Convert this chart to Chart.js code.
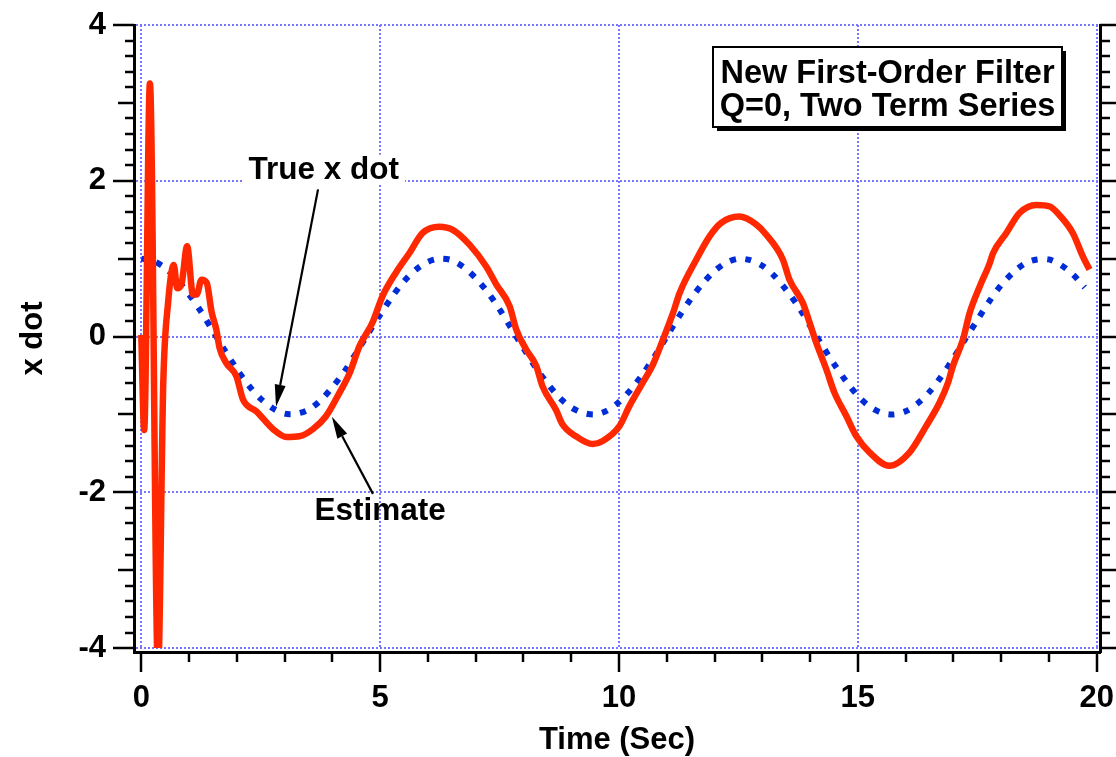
<!DOCTYPE html>
<html>
<head>
<meta charset="utf-8">
<script src="https://cdn.jsdelivr.net/npm/chart.js@4/dist/chart.umd.min.js"></script>
<style>html,body{margin:0;padding:0;background:#fff;}canvas{display:block;}</style>
</head>
<body>
<canvas id="c" width="1116" height="757"></canvas>
<script>
// ---- data ----
const trueTime = [0,0.25,0.5,0.75,1,1.25,1.5,1.75,2,2.25,2.5,2.75,3,3.25,3.5,3.75,4,4.25,4.5,4.75,
  5,5.25,5.5,5.75,6,6.25,6.5,6.75,7,7.25,7.5,7.75,8,8.25,8.5,8.75,9,9.25,9.5,9.75,
  10,10.25,10.5,10.75,11,11.25,11.5,11.75,12,12.25,12.5,12.75,13,13.25,13.5,13.75,14,14.25,14.5,14.75,
  15,15.25,15.5,15.75,16,16.25,16.5,16.75,17,17.25,17.5,17.75,18,18.25,18.5,18.75,19,19.25,19.5,19.75];
const trueXdot = [1.00,0.97,0.88,0.73,0.54,0.32,0.07,-0.18,-0.42,-0.63,-0.80,-0.92,-0.99,-0.99,-0.94,-0.82,-0.65,-0.45,-0.21,0.04,
  0.28,0.51,0.71,0.86,0.96,1.00,0.98,0.89,0.75,0.57,0.35,0.10,-0.15,-0.39,-0.60,-0.78,-0.91,-0.98,-1.00,-0.95,
  -0.84,-0.68,-0.48,-0.25,0.00,0.25,0.48,0.68,0.84,0.95,1.00,0.98,0.91,0.78,0.60,0.39,0.14,-0.11,-0.35,-0.57,
  -0.76,-0.90,-0.98,-1.00,-0.96,-0.86,-0.71,-0.51,-0.28,-0.03,0.21,0.45,0.66,0.82,0.94,0.99,0.99,0.92,0.80,0.63];
const estTime = [0,0.06,0.18,0.35,0.46,0.56,0.68,0.75,0.84,0.96,1.08,1.16,1.26,1.37,1.47,1.57,1.64,1.78,1.99,2.13,
  2.41,2.76,3.04,3.31,3.59,3.87,4.15,4.36,4.57,4.84,5.05,5.33,5.61,5.89,6.24,6.52,6.87,7.22,7.43,7.71,
  7.85,8.06,8.27,8.40,8.68,8.82,9.10,9.45,9.66,10.01,10.22,10.50,10.71,10.92,11.13,11.27,11.62,11.90,12.14,12.52,
  12.87,13.08,13.43,13.57,13.85,13.99,14.13,14.34,14.51,14.76,14.97,15.25,15.66,16.08,16.43,16.71,16.89,16.99,17.20,17.34,
  17.55,17.76,17.83,18.11,18.39,18.74,19.02,19.22,19.50,19.71,19.85];
const estXdot = [0.02,-1.2,3.25,-4.3,-0.59,0.43,0.92,0.62,0.67,1.16,0.54,0.54,0.73,0.69,0.32,0.09,-0.15,-0.34,-0.51,-0.81,
  -0.96,-1.19,-1.29,-1.28,-1.19,-1.02,-0.72,-0.47,-0.12,0.18,0.52,0.82,1.07,1.33,1.41,1.37,1.18,0.90,0.67,0.39,
  0.09,-0.17,-0.38,-0.64,-0.94,-1.13,-1.28,-1.38,-1.34,-1.15,-0.89,-0.59,-0.36,-0.04,0.30,0.56,0.99,1.29,1.46,1.54,
  1.44,1.31,0.99,0.73,0.43,0.18,-0.08,-0.42,-0.72,-1.02,-1.28,-1.49,-1.66,-1.49,-1.15,-0.85,-0.59,-0.38,-0.04,0.30,
  0.64,0.94,1.07,1.33,1.59,1.69,1.67,1.56,1.33,1.03,0.86];
const xTickLabels = [0,5,10,15,20];
const yTickLabels = [-4,-2,0,2,4];
const seriesNames = ['True x dot','Estimate'];
const boxLines = ['New First-Order Filter','Q=0, Two Term Series'];
const xTitle = 'Time (Sec)';
const yTitle = 'x dot';

// ---- annotation placement (data coordinates) ----
const notes = [
  {name: 0, at: [3.82, 2.13], from: [3.70, 1.89], to: [2.82, -0.90], bg: true},
  {name: 1, at: [5.00, -2.25], from: [4.85, -2.02], to: [3.99, -1.03], bg: false}
];

const FONT = '"Liberation Sans", Arial, Helvetica, sans-serif';
const GRID = 'rgb(118,118,255)';

const decor = {
  id: 'decor',
  beforeDatasetsDraw(chart) {
    const {ctx, chartArea: a, scales: {x, y}} = chart;
    ctx.save();
    // dotted grid
    ctx.strokeStyle = GRID; ctx.lineWidth = 2; ctx.setLineDash([2, 2]);
    const yBot = y.getPixelForValue(-4);
    xTickLabels.forEach(v => {
      const px = Math.round(x.getPixelForValue(v));
      ctx.beginPath(); ctx.moveTo(px, a.top); ctx.lineTo(px, yBot); ctx.stroke();
    });
    yTickLabels.forEach(v => {
      const py = Math.round(y.getPixelForValue(v));
      ctx.beginPath(); ctx.moveTo(a.left + 2, py); ctx.lineTo(a.right - 1, py); ctx.stroke();
    });
    // tick marks
    ctx.setLineDash([]); ctx.strokeStyle = '#000'; ctx.lineWidth = 2.5;
    for (let k = -20; k <= 20; k++) {
      const py = Math.round(y.getPixelForValue(k / 5));
      const lenL = (k % 10 === 0) ? 21 : (k % 5 === 0 ? 16 : 9);
      const lenR = (k % 5 === 0) ? 16 : 10;
      ctx.beginPath(); ctx.moveTo(a.left - lenL, py); ctx.lineTo(a.left, py); ctx.stroke();
      ctx.beginPath(); ctx.moveTo(a.right, py); ctx.lineTo(a.right + lenR, py); ctx.stroke();
    }
    for (let i = 0; i <= 20; i++) {
      const px = Math.round(x.getPixelForValue(i));
      const len = (i % 5 === 0) ? 20 : 10;
      ctx.beginPath(); ctx.moveTo(px, a.bottom); ctx.lineTo(px, a.bottom + len); ctx.stroke();
    }
    ctx.restore();
  },
  afterDatasetsDraw(chart) {
    const {ctx, chartArea: a, scales: {x, y}} = chart;
    ctx.save();
    ctx.font = 'bold 31.5px ' + FONT;
    ctx.textAlign = 'center'; ctx.textBaseline = 'middle';
    // annotations with arrows
    notes.forEach(n => {
      const tx = x.getPixelForValue(n.at[0]), ty = y.getPixelForValue(n.at[1]);
      const label = seriesNames[n.name];
      if (n.bg) {
        const w = ctx.measureText(label).width;
        ctx.fillStyle = '#fff'; ctx.fillRect(tx - w / 2 - 6, ty - 16, w + 12, 30);
      }
      ctx.fillStyle = '#000'; ctx.fillText(label, tx, ty);
      const x1 = x.getPixelForValue(n.from[0]), y1 = y.getPixelForValue(n.from[1]);
      const x2 = x.getPixelForValue(n.to[0]), y2 = y.getPixelForValue(n.to[1]);
      const ang = Math.atan2(y2 - y1, x2 - x1);
      const hl = 22, hw = 5.5;
      const bx = x2 - hl * Math.cos(ang), by = y2 - hl * Math.sin(ang);
      ctx.strokeStyle = '#000'; ctx.lineWidth = 2.2;
      ctx.beginPath(); ctx.moveTo(x1, y1); ctx.lineTo(bx, by); ctx.stroke();
      ctx.beginPath();
      ctx.moveTo(x2, y2);
      ctx.lineTo(bx + hw * Math.sin(ang), by - hw * Math.cos(ang));
      ctx.lineTo(bx - hw * Math.sin(ang), by + hw * Math.cos(ang));
      ctx.closePath(); ctx.fill();
    });
    // title box with shadow
    const bw = 349, bh = 80, bx = a.right - 387, by = a.top + 22;
    ctx.fillStyle = '#000'; ctx.fillRect(bx + 4, by + 4, bw, bh);
    ctx.fillStyle = '#fff'; ctx.fillRect(bx, by, bw, bh);
    ctx.strokeStyle = '#000'; ctx.lineWidth = 2; ctx.strokeRect(bx, by, bw, bh);
    ctx.fillStyle = '#000';
    ctx.font = 'bold 32.5px ' + FONT;
    ctx.fillText(boxLines[0], bx + bw / 2, by + 27);
    ctx.fillText(boxLines[1], bx + bw / 2, by + 60);
    ctx.restore();
  }
};

const tickFont = {family: FONT, size: 31, weight: 'bold', lineHeight: 1};
const noPad = s => { s.paddingLeft = 0; s.paddingRight = 0; s.paddingTop = 0; s.paddingBottom = 0; };

new Chart(document.getElementById('c'), {
  type: 'line',
  data: {
    datasets: [
      {
        label: seriesNames[1],
        data: estTime.map((t, i) => ({x: t, y: estXdot[i]})),
        borderColor: 'rgb(255,40,0)', borderWidth: 6.5, pointRadius: 0,
        borderJoinStyle: 'bevel', cubicInterpolationMode: 'monotone', fill: false,
        clip: {left: 10, right: 0, top: 0, bottom: -4}
      },
      {
        label: seriesNames[0],
        data: trueTime.map((t, i) => ({x: t, y: trueXdot[i]})),
        borderColor: 'rgb(0,45,215)', borderWidth: 6, pointRadius: 0,
        borderDash: [6, 9.5], borderCapStyle: 'butt', tension: 0.3, fill: false
      }
    ]
  },
  options: {
    responsive: false, animation: false, devicePixelRatio: 1,
    layout: {padding: {top: 25, left: 0, right: 0, bottom: 0}},
    plugins: {legend: {display: false}, tooltip: {enabled: false}},
    scales: {
      x: {
        type: 'linear', position: 'bottom', min: -0.153, max: 20.07,
        afterFit: s => { s.height = 105; noPad(s); },
        afterBuildTicks: s => { s.ticks = xTickLabels.map(v => ({value: v})); },
        grid: {display: false, drawTicks: false},
        border: {display: true, color: '#000', width: 3},
        ticks: {color: '#000', font: tickFont, padding: 31, maxRotation: 0, autoSkip: false,
          callback: v => String(v)},
        title: {display: true, text: xTitle, color: '#000',
          font: {family: FONT, size: 31, weight: 'bold', lineHeight: 1}, padding: {top: 0, bottom: 1}}
      },
      y: {
        type: 'linear', position: 'left', min: -4.05, max: 4,
        afterFit: s => { s.width = 134; noPad(s); },
        afterBuildTicks: s => { s.ticks = yTickLabels.map(v => ({value: v})); },
        grid: {display: false, drawTicks: false},
        border: {display: true, color: '#000', width: 3},
        ticks: {color: '#000', font: tickFont, padding: 28, autoSkip: false, callback: v => String(v)},
        title: {display: true, text: yTitle, color: '#000',
          font: {family: FONT, size: 31, weight: 'bold', lineHeight: 1}, padding: {top: 18, bottom: 0}}
      },
      y2: {
        type: 'linear', position: 'right', min: -4.05, max: 4,
        afterFit: s => { s.width = 16; noPad(s); },
        grid: {display: false, drawTicks: false},
        border: {display: true, color: '#000', width: 3},
        ticks: {display: false}
      }
    }
  },
  plugins: [decor]
});
</script>
</body>
</html>
